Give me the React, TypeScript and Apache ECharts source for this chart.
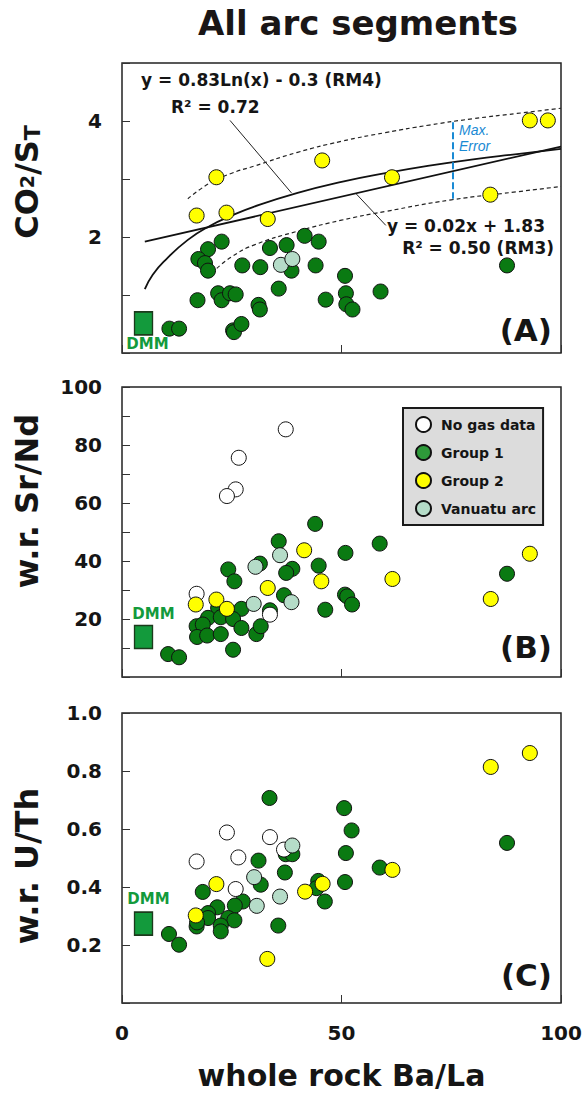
import React, { useEffect, useRef } from 'react';
import * as echarts from 'echarts';

type P = [number, number];

// ---------- Panel A: CO2/ST vs whole rock Ba/La ----------
const group1A: P[] = [
  [22.7, 1.92], [19.6, 1.79], [17.4, 1.62], [18.9, 1.55], [19.6, 1.42], [27.4, 1.51],
  [31.5, 1.48], [33.7, 1.81], [37.5, 1.86], [38.6, 1.42], [41.6, 2.02], [44.8, 1.92],
  [44.1, 1.51], [50.8, 1.33], [17.2, 0.91], [21.9, 1.03], [22.7, 0.91], [24.6, 1.03],
  [25.9, 1.01], [35.7, 1.11], [31.1, 0.83], [31.4, 0.75], [46.4, 0.92], [51.0, 1.03],
  [51.1, 0.84], [52.5, 0.75], [58.9, 1.06], [25.3, 0.39], [25.5, 0.36], [27.2, 0.50],
  [10.8, 0.42], [13.0, 0.42], [87.7, 1.51],
];
const group2A: P[] = [
  [17.0, 2.37], [21.5, 3.03], [23.8, 2.42], [33.2, 2.31], [45.6, 3.32], [61.5, 3.03],
  [83.9, 2.73], [92.9, 4.01], [97.0, 4.01],
];
const vanuatuA: P[] = [[36.2, 1.52], [38.8, 1.62]];
const dmmA: P[] = [[4.9, 0.51]];

// fitted curves
const logFitRM4: P[] = [
  [5.2, 1.10], [7, 1.35], [10, 1.61], [15, 1.95], [20, 2.19], [25, 2.37], [30, 2.52],
  [40, 2.76], [50, 2.95], [60, 3.10], [70, 3.23], [80, 3.34], [90, 3.43], [100, 3.52],
];
const linearFitRM3: P[] = [[5.2, 1.92], [100, 3.56]];
const upperError: P[] = [
  [15, 2.66], [20, 2.93], [25, 3.10], [30, 3.22], [40, 3.46], [50, 3.65], [60, 3.80],
  [70, 3.93], [80, 4.04], [90, 4.13], [100, 4.22],
];
const lowerError: P[] = [
  [21.6, 1.46], [25, 1.66], [30, 1.86], [40, 2.10], [50, 2.29], [60, 2.44], [75, 2.64],
  [90, 2.78], [100, 2.87],
];
const maxErrorBar: P[] = [[75.4, 3.98], [75.4, 2.66]];
const leaderRM4: P[] = [[24.6, 4.01], [38.6, 2.76]];
const leaderRM3: P[] = [[53.4, 2.74], [60.1, 2.20]];

// ---------- Panel B: w.r. Sr/Nd ----------
const noGasB: P[] = [
  [37.3, 85.4], [26.6, 75.6], [25.9, 64.7], [23.9, 62.4], [17.0, 28.7], [33.7, 21.5],
];
const group1B: P[] = [
  [44.0, 52.8], [35.7, 46.8], [58.7, 46.0], [50.9, 42.8], [31.4, 39.1], [24.2, 37.1],
  [38.8, 37.3], [37.4, 35.9], [44.8, 38.4], [25.6, 33.0], [87.7, 35.6], [36.9, 28.2],
  [50.8, 28.4], [51.3, 27.8], [52.4, 25.0], [46.3, 23.2], [27.2, 23.5], [21.9, 23.8],
  [19.6, 20.4], [22.5, 20.6], [25.3, 20.0], [17.0, 17.5], [18.4, 18.1], [17.1, 13.8],
  [19.4, 14.3], [22.5, 14.8], [27.2, 16.9], [30.6, 14.8], [31.6, 17.5], [33.7, 23.0],
  [25.3, 9.4], [10.5, 7.9], [13.0, 6.8],
];
const group2B: P[] = [
  [16.8, 25.0], [21.5, 26.7], [23.9, 23.5], [33.2, 30.7], [41.5, 43.7], [45.4, 33.0],
  [61.6, 33.8], [84.0, 26.9], [92.9, 42.5],
];
const vanuatuB: P[] = [[30.4, 38.0], [36.0, 42.0], [30.0, 25.2], [38.6, 25.8]];
const dmmB: P[] = [[4.9, 13.8]];

// ---------- Panel C: w.r. U/Th ----------
const noGasC: P[] = [
  [23.9, 0.588], [33.7, 0.572], [17.0, 0.488], [26.5, 0.502], [36.9, 0.529], [25.9, 0.393],
];
const group1C: P[] = [
  [33.6, 0.707], [50.6, 0.672], [52.3, 0.595], [87.7, 0.552], [51.0, 0.517], [37.3, 0.513],
  [38.8, 0.513], [31.1, 0.491], [58.7, 0.467], [37.1, 0.450], [44.7, 0.421], [44.3, 0.396],
  [50.8, 0.417], [31.6, 0.408], [46.2, 0.350], [18.4, 0.383], [27.5, 0.350], [25.7, 0.336],
  [21.7, 0.330], [19.6, 0.310], [19.6, 0.293], [17.0, 0.264], [17.1, 0.278], [24.2, 0.293],
  [25.6, 0.285], [22.5, 0.267], [22.5, 0.247], [35.6, 0.267], [10.7, 0.238], [13.0, 0.201],
];
const group2C: P[] = [
  [92.9, 0.862], [84.0, 0.814], [61.6, 0.459], [45.7, 0.411], [41.7, 0.384], [21.5, 0.410],
  [16.8, 0.302], [33.1, 0.152],
];
const vanuatuC: P[] = [[38.8, 0.543], [30.1, 0.434], [36.0, 0.367], [30.7, 0.335]];
const dmmC: P[] = [[4.9, 0.274]];

const legendNames = ['No gas data', 'Group 1', 'Group 2', 'Vanuatu arc'];

const FONT = '"DejaVu Sans", "Liberation Sans", sans-serif';
const GREEN = '#0a7a12';
const YELLOW = '#ffff00';
const WHITE = '#ffffff';
const VANUATU = '#b5dcc8';
const DMM_GREEN = '#139a3c';
const BLUE = '#1a8ad4';
const INK = '#151515';

function scatter(name: string, data: P[], color: string, gi: number) {
  return {
    type: 'scatter',
    name,
    data,
    xAxisIndex: gi,
    yAxisIndex: gi,
    symbol: 'circle',
    symbolSize: 15,
    itemStyle: { color, borderColor: '#111', borderWidth: 1, opacity: 1 },
    z: 3,
  };
}

function dmm(data: P[], gi: number, position: string, distance: number, offset: number[]) {
  return {
    type: 'scatter',
    name: 'DMM',
    data,
    xAxisIndex: gi,
    yAxisIndex: gi,
    symbol: 'rect',
    symbolSize: [18, 23],
    itemStyle: { color: DMM_GREEN, borderColor: '#1c3a1c', borderWidth: 1.5, opacity: 1 },
    label: {
      show: true,
      formatter: 'DMM',
      position,
      distance,
      offset,
      color: DMM_GREEN,
      fontFamily: FONT,
      fontWeight: 'bold',
      fontSize: 15,
    },
    z: 3,
  };
}

function line(data: P[], lineStyle: any, smooth = false) {
  return {
    type: 'line',
    data,
    xAxisIndex: 0,
    yAxisIndex: 0,
    showSymbol: false,
    symbol: 'none',
    smooth,
    silent: true,
    lineStyle,
    z: 1,
  };
}

export default function App() {
  const ref = useRef<HTMLDivElement>(null);
  useEffect(() => {
    const chart = echarts.init(ref.current!, null, { renderer: 'svg' });
    const grid = (top: number) => ({
      left: 122,
      top,
      width: 439,
      height: 290,
      show: true,
      borderColor: '#222',
      borderWidth: 1.5,
      backgroundColor: '#fff',
    });
    const tick = { show: true, inside: true, length: 8, lineStyle: { color: '#333', width: 1 } };
    const labelStyle = { fontFamily: FONT, fontWeight: 'bold', fontSize: 20, color: INK };
    const xAxis = (gi: number, showLabel: boolean) => ({
      type: 'value',
      gridIndex: gi,
      min: 0,
      max: 100,
      interval: 50,
      axisLine: { show: false },
      axisTick: tick,
      splitLine: { show: false },
      axisLabel: { show: showLabel, margin: 20, ...labelStyle },
      ...(showLabel
        ? {
            name: 'whole rock Ba/La',
            nameLocation: 'middle',
            nameGap: 57,
            nameTextStyle: { fontFamily: FONT, fontWeight: 'bold', fontSize: 30, color: INK },
          }
        : {}),
    });
    const yAxis = (gi: number, max: number, interval: number, fmt: (v: number) => string) => ({
      type: 'value',
      gridIndex: gi,
      min: 0,
      max,
      interval,
      axisLine: { show: false },
      axisTick: tick,
      splitLine: { show: false },
      axisLabel: { margin: 20, formatter: fmt, ...labelStyle },
    });

    const annot = (text: string, x: number, y: number, align = 'left', size = 17) => ({
      type: 'text',
      x,
      y,
      silent: true,
      style: {
        text,
        align,
        verticalAlign: 'middle',
        fontFamily: FONT,
        fontWeight: 'bold',
        fontSize: size,
        fill: INK,
      },
    });

    const option: any = {
      animation: false,
      backgroundColor: '#fff',
      grid: [grid(63), grid(387), grid(713)],
      xAxis: [xAxis(0, false), xAxis(1, false), xAxis(2, true)],
      yAxis: [
        yAxis(0, 5, 1, (v: number) => (v === 2 || v === 4 ? String(v) : '')),
        yAxis(1, 100, 10, (v: number) => (v > 0 && v % 20 === 0 ? String(v) : '')),
        yAxis(2, 1, 0.2, (v: number) => (v > 0.01 ? v.toFixed(1) : '')),
      ],
      legend: {
        data: legendNames.map((n) =>
          n === 'Group 1' ? { name: n, itemStyle: { color: '#2e9a3a' } } : { name: n }
        ),
        orient: 'vertical',
        left: 403,
        top: 408,
        icon: 'circle',
        itemWidth: 15,
        itemHeight: 15,
        itemGap: 11,
        padding: [8, 7, 8, 12],
        backgroundColor: '#dcdcdc',
        borderColor: '#1a1a1a',
        borderWidth: 2,
        selectedMode: false,
        textStyle: {
          fontFamily: FONT,
          fontWeight: 'bold',
          fontSize: 14,
          color: INK,
          padding: [0, 0, 0, 5],
        },
      },
      series: [
        // Panel A curves
        line(upperError, { color: '#222', width: 1.2, type: [4, 3] }, true),
        line(lowerError, { color: '#222', width: 1.2, type: [4, 3] }, true),
        line(logFitRM4, { color: '#111', width: 1.8 }, true),
        line(linearFitRM3, { color: '#111', width: 1.8 }),
        line(leaderRM4, { color: '#222', width: 1 }),
        line(leaderRM3, { color: '#222', width: 1 }),
        line(maxErrorBar, { color: BLUE, width: 2, type: [7, 3] }),
        // Panel A points
        scatter('Group 1', group1A, GREEN, 0),
        scatter('Group 2', group2A, YELLOW, 0),
        scatter('Vanuatu arc', vanuatuA, VANUATU, 0),
        dmm(dmmA, 0, 'bottom', 1, [4, 0]),
        // Panel B
        scatter('Group 1', group1B, GREEN, 1),
        scatter('No gas data', noGasB, WHITE, 1),
        scatter('Group 2', group2B, YELLOW, 1),
        scatter('Vanuatu arc', vanuatuB, VANUATU, 1),
        dmm(dmmB, 1, 'top', 3, [10, 0]),
        // Panel C
        scatter('Group 1', group1C, GREEN, 2),
        scatter('No gas data', noGasC, WHITE, 2),
        scatter('Group 2', group2C, YELLOW, 2),
        scatter('Vanuatu arc', vanuatuC, VANUATU, 2),
        dmm(dmmC, 2, 'top', 5, [5, 0]),
      ],
      graphic: [
        {
          type: 'text',
          x: 358,
          y: 23,
          silent: true,
          style: {
            text: 'All arc segments',
            align: 'center',
            verticalAlign: 'middle',
            fontFamily: FONT,
            fontWeight: 'bold',
            fontSize: 34,
            fill: '#1a1616',
          },
        },
        {
          type: 'text',
          x: 27,
          y: 182,
          rotation: Math.PI / 2,
          silent: true,
          style: {
            text: '{a|CO}{b|2}{a|/S}{c|T}',
            align: 'center',
            verticalAlign: 'middle',
            fill: INK,
            rich: {
              a: { fontFamily: FONT, fontWeight: 'bold', fontSize: 32, fill: INK },
              b: { fontFamily: FONT, fontWeight: 'bold', fontSize: 19, fill: INK, verticalAlign: 'middle' },
              c: { fontFamily: FONT, fontWeight: 'bold', fontSize: 22, fill: INK, verticalAlign: 'bottom' },
            },
          },
        },
        {
          type: 'text',
          x: 27,
          y: 501,
          rotation: Math.PI / 2,
          silent: true,
          style: {
            text: 'w.r. Sr/Nd',
            align: 'center',
            verticalAlign: 'middle',
            fontFamily: FONT,
            fontWeight: 'bold',
            fontSize: 32,
            fill: INK,
          },
        },
        {
          type: 'text',
          x: 27,
          y: 866,
          rotation: Math.PI / 2,
          silent: true,
          style: {
            text: 'w.r. U/Th',
            align: 'center',
            verticalAlign: 'middle',
            fontFamily: FONT,
            fontWeight: 'bold',
            fontSize: 32,
            fill: INK,
          },
        },
        annot('y = 0.83Ln(x) - 0.3 (RM4)', 141, 80),
        annot('R² = 0.72', 171, 107),
        annot('y = 0.02x + 1.83', 545, 226, 'right'),
        annot('R² = 0.50 (RM3)', 554, 248, 'right'),
        annot('(A)', 552, 330, 'right', 31),
        annot('(B)', 552, 647, 'right', 31),
        annot('(C)', 552, 975, 'right', 31),
        {
          type: 'text',
          x: 459,
          y: 138,
          silent: true,
          style: {
            text: 'Max.\nError',
            align: 'left',
            verticalAlign: 'middle',
            fontFamily: '"Liberation Sans", Arial, sans-serif',
            fontStyle: 'italic',
            fontSize: 14,
            lineHeight: 16,
            fill: BLUE,
          },
        },
      ],
    };
    chart.setOption(option);
    return () => chart.dispose();
  }, []);
  return (
    <div
      ref={ref}
      style={{ position: 'absolute', left: 0, top: 0, width: 588, height: 1096, background: '#fff' }}
    />
  );
}
